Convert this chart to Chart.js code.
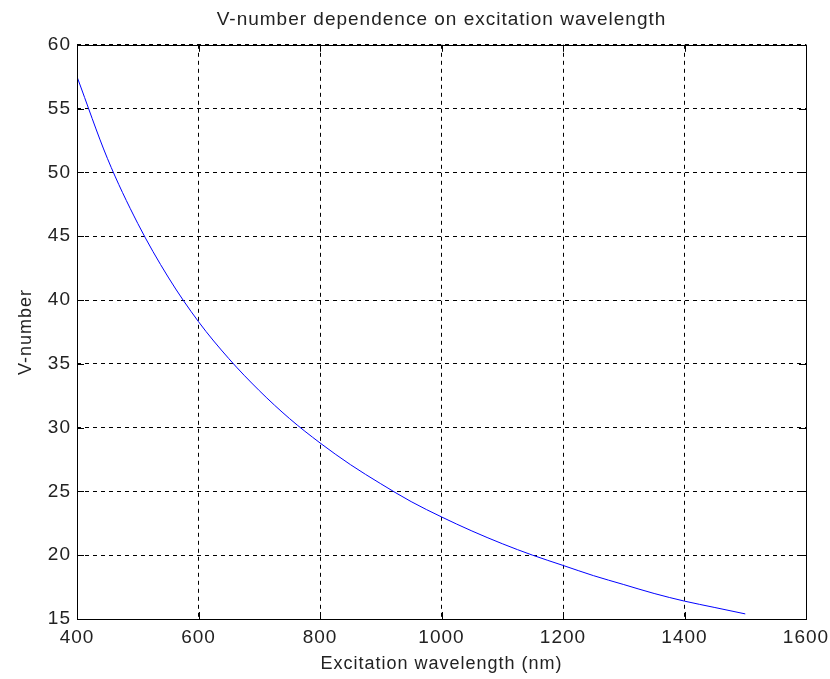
<!DOCTYPE html>
<html>
<head>
<meta charset="utf-8">
<title>V-number dependence on excitation wavelength</title>
<script src="https://cdn.jsdelivr.net/npm/chart.js@4.4.1/dist/chart.umd.min.js"></script>
<style>
	html, body { margin: 0; padding: 0; background: #fff; }
	#wrap { position: relative; width: 830px; height: 679px; }
</style>
</head>
<body>
<div id="wrap"><canvas id="vnumber-chart"></canvas></div>
<script>
'use strict';

// Data
const wavelengths = [400, 450, 500, 550, 600, 650, 700, 750, 800, 850, 900, 950,
	1000, 1050, 1100, 1150, 1200, 1250, 1300, 1350, 1400, 1450, 1500];
const vNumbers = [57.5, 51.1, 46.0, 41.8, 38.3, 35.4, 32.9, 30.7, 28.8, 27.1, 25.6, 24.2,
	23.0, 21.9, 20.9, 20.0, 19.2, 18.4, 17.7, 17.0, 16.4, 15.9, 15.4];
const xTicks = [400, 600, 800, 1000, 1200, 1400, 1600];
const yTicks = [15, 20, 25, 30, 35, 40, 45, 50, 55, 60];

const FONT = '"Liberation Sans", Arial, sans-serif';
const TEXT_COLOR = '#222';

/**
 * Slightly spaced-out lettering, like the stretched MATLAB export
 */
const spacingPlugin = {
	id: 'letterSpacing',
	beforeLayout: function(chart) {
		chart.ctx.letterSpacing = '1px';
	},
	beforeDraw: function(chart) {
		chart.ctx.letterSpacing = '1px';
	}
};

/**
 * Solid box round the axes plus short inward tick marks (MATLAB style)
 */
const boxPlugin = {
	id: 'axesBox',
	afterDatasetsDraw: function(chart) {
		const ctx = chart.ctx;
		const a = chart.chartArea;
		const sx = chart.scales.x;
		const sy = chart.scales.y;
		const len = 7;

		ctx.save();
		ctx.strokeStyle = '#000';
		ctx.lineWidth = 1;
		ctx.setLineDash([]);
		ctx.beginPath();
		xTicks.forEach(function(v) {
			const px = Math.round(sx.getPixelForValue(v)) + 0.5;
			ctx.moveTo(px, a.bottom);
			ctx.lineTo(px, a.bottom - len);
			ctx.moveTo(px, a.top);
			ctx.lineTo(px, a.top + len);
		});
		yTicks.forEach(function(v) {
			const py = Math.round(sy.getPixelForValue(v)) + 0.5;
			ctx.moveTo(a.left, py);
			ctx.lineTo(a.left + len, py);
			ctx.moveTo(a.right, py);
			ctx.lineTo(a.right - len, py);
		});
		ctx.stroke();
		ctx.strokeRect(Math.round(a.left) + 0.5, Math.round(a.top) + 0.5,
			Math.round(a.right - a.left), Math.round(a.bottom - a.top));
		ctx.restore();
	}
};

const ctx = document.getElementById('vnumber-chart');

new Chart(ctx, {
	type: 'line',
	data: {
		labels: wavelengths,
		datasets: [{
			label: 'V-number',
			data: wavelengths.map(function(w, i) { return { x: w, y: vNumbers[i] }; }),
			borderColor: '#0000ff',
			borderWidth: 1,
			pointRadius: 0,
			fill: false,
			cubicInterpolationMode: 'monotone'
		}]
	},
	options: {
		responsive: true,
		maintainAspectRatio: false,
		animation: false,
		layout: {
			padding: { top: 0, right: 24, bottom: 0, left: 0 }
		},
		plugins: {
			legend: { display: false },
			tooltip: { enabled: false },
			title: {
				display: true,
				fullSize: false,
				text: 'V-number dependence on excitation wavelength',
				color: TEXT_COLOR,
				font: { family: FONT, size: 19, weight: 'normal' },
				padding: { top: 8, bottom: 14 }
			}
		},
		scales: {
			x: {
				type: 'linear',
				min: 400,
				max: 1600,
				afterBuildTicks: function(scale) {
					scale.ticks = xTicks.map(function(v) { return { value: v }; });
				},
				afterFit: function(scale) {
					scale.height = 60;
					scale.paddingLeft = 0;
					scale.paddingRight = 0;
				},
				grid: {
					color: '#000',
					lineWidth: 1,
					drawTicks: false
				},
				border: { display: false, dash: [4, 4] },
				ticks: {
					color: TEXT_COLOR,
					padding: 7,
					maxRotation: 0,
					font: { family: FONT, size: 19 },
					callback: function(v) { return String(v); }
				},
				title: {
					display: true,
					text: 'Excitation wavelength (nm)',
					color: TEXT_COLOR,
					font: { family: FONT, size: 18 },
					padding: { top: 4, bottom: 4 }
				}
			},
			y: {
				type: 'linear',
				min: 15,
				max: 60,
				afterBuildTicks: function(scale) {
					scale.ticks = yTicks.map(function(v) { return { value: v }; });
				},
				afterFit: function(scale) {
					scale.width = 77;
					scale.paddingTop = 0;
					scale.paddingBottom = 0;
				},
				grid: {
					color: '#000',
					lineWidth: 1,
					drawTicks: false
				},
				border: { display: false, dash: [4, 4] },
				ticks: {
					color: TEXT_COLOR,
					padding: 6,
					font: { family: FONT, size: 19 },
					callback: function(v) { return String(v); }
				},
				title: {
					display: true,
					text: 'V-number',
					color: TEXT_COLOR,
					font: { family: FONT, size: 18 },
					padding: { top: 15, bottom: 4 }
				}
			}
		}
	},
	plugins: [spacingPlugin, boxPlugin]
});
</script>
</body>
</html>
